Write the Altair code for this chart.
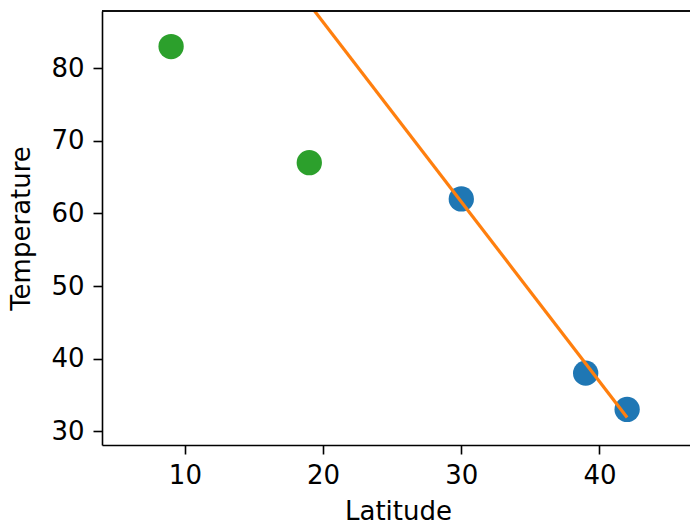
import altair as alt
import pandas as pd

# Data
green_lat = [9, 19]
green_temp = [83, 67]
blue_lat = [30, 39, 42]
blue_temp = [62, 38, 33]
fit_lat = [19.3, 42]
fit_temp = [88.1, 31.9]

x_ticks = [10, 20, 30, 40]
y_ticks = [30, 40, 50, 60, 70, 80]

W, H = 588, 434
FONT = "DejaVu Sans"
FS = 26

green_df = pd.DataFrame({"Latitude": green_lat, "Temperature": green_temp})
blue_df = pd.DataFrame({"Latitude": blue_lat, "Temperature": blue_temp})
fit_df = pd.DataFrame({"Latitude": fit_lat, "Temperature": fit_temp})

xs = alt.Scale(domain=[4, 46.55], nice=False, zero=False)
ys = alt.Scale(domain=[28.1, 87.9], nice=False, zero=False)

x_axis = alt.Axis(values=x_ticks, grid=False, tickSize=9, labelPadding=8,
                  titlePadding=10, titleX=296)
y_axis = alt.Axis(values=y_ticks, grid=False, tickSize=9, labelPadding=9,
                  titlePadding=16)

base_x = alt.X("Latitude:Q", scale=xs, axis=x_axis, title="Latitude")
base_y = alt.Y("Temperature:Q", scale=ys, axis=y_axis, title="Temperature")

green = alt.Chart(green_df).mark_circle(size=640, opacity=1, color="#2ca02c").encode(
    x=base_x, y=base_y)
blue = alt.Chart(blue_df).mark_circle(size=640, opacity=1, color="#1f77b4").encode(
    x=base_x, y=base_y)
fit = alt.Chart(fit_df).mark_line(color="#ff7f0e", strokeWidth=3.2, clip=True).encode(
    x=base_x, y=base_y)
top_spine = alt.Chart(green_df).mark_rule(color="black", strokeWidth=1.6).encode(
    x=alt.value(0), x2=alt.value(W), y=alt.value(0))

chart = alt.layer(green, blue, fit, top_spine).properties(
    width=W, height=H,
    padding={"left": 102, "top": 11, "right": 0, "bottom": 81},
    autosize=alt.AutoSizeParams(type="none"),
).configure_view(stroke=None).configure_axis(
    domainColor="black", domainWidth=1.6, tickColor="black", tickWidth=1.6,
    labelFont=FONT, labelFontSize=FS, labelColor="black",
    titleFont=FONT, titleFontSize=FS, titleColor="black", titleFontWeight="normal",
)

chart.save("out.html", embed_options={"renderer": "svg", "actions": False})
